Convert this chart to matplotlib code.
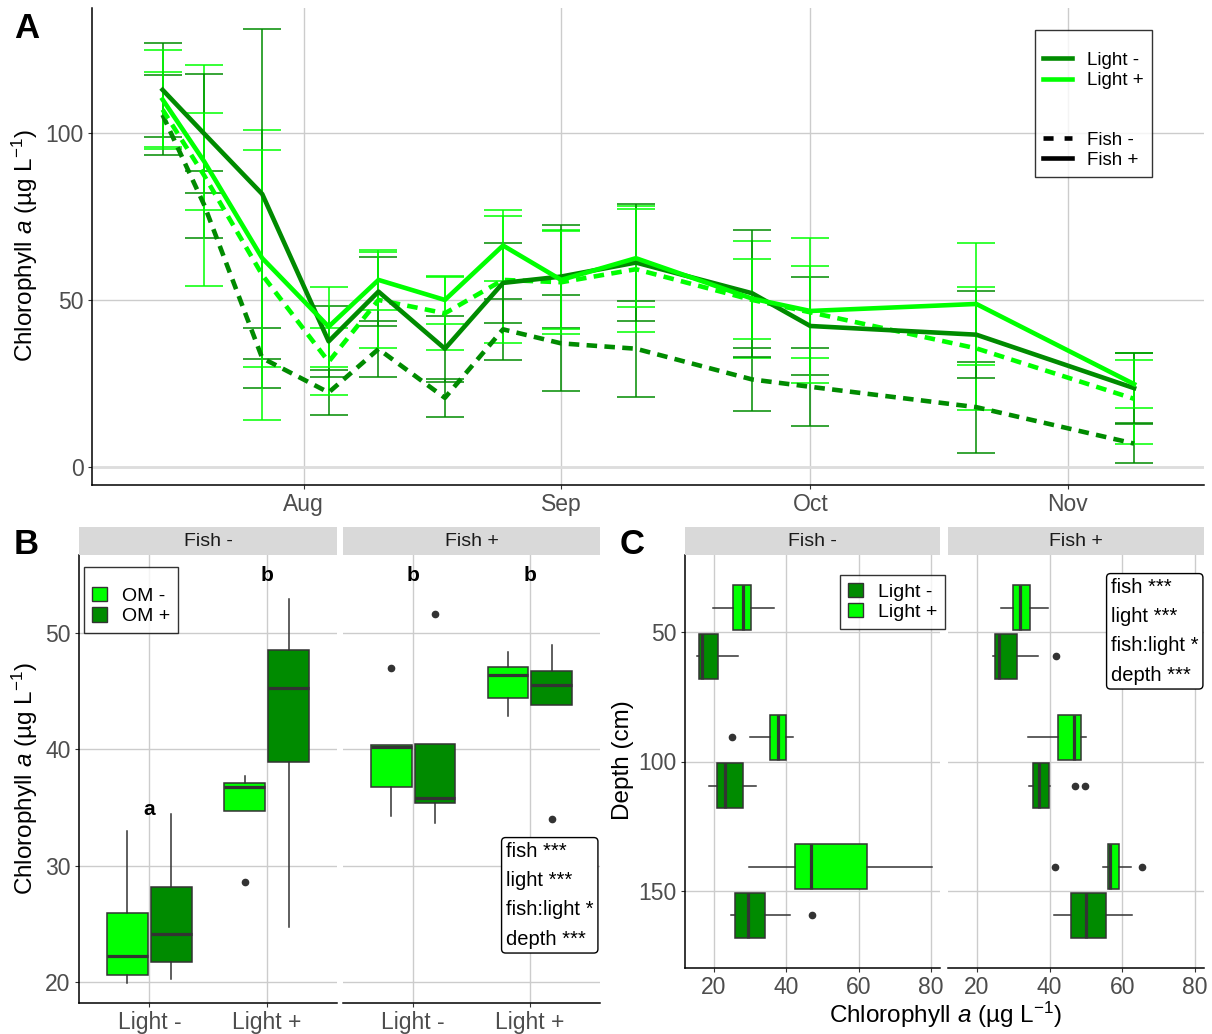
import matplotlib
matplotlib.use("Agg")
import matplotlib.pyplot as plt
import matplotlib.dates as mdates
from matplotlib.lines import Line2D
from matplotlib.patches import Patch
import datetime as dt

plt.rcParams['font.family'] = ['Liberation Sans', 'DejaVu Sans']
plt.rcParams['mathtext.fontset'] = 'custom'
plt.rcParams['mathtext.rm'] = 'Liberation Sans'
plt.rcParams['mathtext.it'] = 'Liberation Sans:italic'

DARK = '#008B00'
LIGHT = '#00FF00'
EDGE = '#333333'
GRID = '#CCCCCC'

# ---- panel A: time series (mean, se) ----
dates = ['2019-07-15', '2019-07-20', '2019-07-27', '2019-08-04', '2019-08-10',
         '2019-08-18', '2019-08-25', '2019-09-01', '2019-09-10', '2019-09-24',
         '2019-10-01', '2019-10-21', '2019-11-09']

# light -, fish +
dk_fp_mean = [112.9, 99.8, 81.7, 37.6, 52.5, 35.4, 55.1, 57.0, 61.2, 52.0, 42.2, 39.6, 23.6]
dk_fp_se = [14.1, 17.8, 49.4, 10.6, 10.3, 9.9, 11.9, 15.5, 17.5, 19.0, 14.8, 13.1, 10.4]
# light +, fish +
lt_fp_mean = [110.0, 91.5, 62.5, 42.0, 56.0, 50.0, 66.3, 56.0, 62.5, 50.4, 46.7, 48.8, 24.8]
lt_fp_se = [14.7, 14.5, 32.5, 12.0, 9.0, 7.2, 10.6, 14.7, 14.7, 12.0, 21.7, 18.3, 7.2]
# light +, fish -
lt_fm_mean = [107.0, 87.3, 57.5, 31.5, 50.0, 46.0, 56.0, 55.3, 59.2, 50.0, 46.3, 35.5, 20.4]
lt_fm_se = [11.2, 33.0, 43.5, 10.0, 14.5, 10.9, 19.0, 15.5, 18.9, 17.5, 13.8, 18.3, 13.6]
# light -, fish -
dk_fm_mean = [105.4, 78.5, 32.6, 22.3, 35.3, 20.7, 41.2, 37.0, 35.4, 26.2, 24.0, 17.9, 7.0]
dk_fm_se = [12.0, 10.0, 8.9, 6.7, 8.5, 5.6, 9.2, 14.4, 14.4, 9.5, 11.7, 13.6, 5.8]

# ---- panel B: boxplots by fish / light / OM ----
b_fish = ['Fish -', 'Fish +']
b_light = ['Light -', 'Light +']
# order: Light- OM-, Light- OM+, Light+ OM-, Light+ OM+
b_lo = [[19.9, 20.3, 34.7, 24.7], [34.3, 33.65, 42.9, 43.85]]
b_q1 = [[20.6, 21.7, 34.7, 38.9], [36.8, 35.4, 44.4, 43.85]]
b_med = [[22.2, 24.1, 36.8, 45.3], [40.2, 35.8, 46.4, 45.55]]
b_q3 = [[25.9, 28.2, 37.1, 48.5], [40.4, 40.5, 47.1, 46.75]]
b_hi = [[33.0, 34.4, 37.7, 52.9], [40.4, 40.5, 48.4, 49.0]]
b_fliers = [[[], [], [28.6], []], [[47.0], [51.6], [], [34.0]]]
b_letters = [['a', 'b'], ['b', 'b']]
b_letter_y = [[34.8, 54.9], [54.9, 54.9]]

# ---- panel C: boxplots by depth ----
c_depths = [50, 100, 150]
# order per depth: Light+, Light-
c_lo = [[[19.7, 15.2], [30.1, 18.5], [29.6, 24.6]],
        [[26.6, 24.4], [34.0, 34.2], [54.6, 41.2]]]
c_q1 = [[[25.3, 15.9], [35.4, 20.75], [42.4, 25.8]],
        [[29.8, 24.9], [42.2, 35.4], [56.2, 46.0]]]
c_med = [[[28.0, 16.8], [37.8, 23.1], [46.7, 29.4]],
         [[31.9, 26.0], [46.8, 37.1], [56.6, 50.1]]]
c_q3 = [[[30.2, 21.0], [39.8, 28.0], [62.4, 34.1]],
        [[34.7, 30.9], [48.7, 39.7], [59.2, 55.5]]]
c_hi = [[[36.7, 26.7], [41.9, 31.7], [80.2, 41.0]],
        [[39.6, 36.8], [50.1, 40.2], [62.3, 62.7]]]
c_fliers = [[[[], []], [[25.1], []], [[], [47.1]]],
            [[[], [41.8]], [[], [47.0, 49.8]], [[41.5, 65.4], []]]]

stats_text = "fish ***\nlight ***\nfish:light *\ndepth ***"
chl_label = r"Chlorophyll $a$ (µg L$^{-1}$)"

W, H = 1212, 1034
fig = plt.figure(figsize=(W / 100, H / 100), dpi=100)


def box(l, t, r, b):
    return [l / W, 1 - b / H, (r - l) / W, (b - t) / H]


def style(ax, left=True):
    ax.spines['top'].set_visible(False)
    ax.spines['right'].set_visible(False)
    ax.spines['left'].set_visible(left)
    for s in ['left', 'bottom']:
        ax.spines[s].set_color('black')
        ax.spines[s].set_linewidth(1.1)
    ax.grid(True, color=GRID, linewidth=1.0)
    ax.set_axisbelow(True)
    ax.tick_params(colors=EDGE, labelcolor='#4D4D4D', labelsize=16.5, length=3, pad=3)
    if not left:
        ax.tick_params(left=False, labelleft=False)
        ax.set_facecolor('none')


def strip(l, t, r, b, label):
    s = fig.add_axes(box(l, t, r, b))
    s.set_facecolor('#D9D9D9')
    s.set_xticks([])
    s.set_yticks([])
    for sp in s.spines.values():
        sp.set_visible(False)
    s.text(0.5, 0.5, label, ha='center', va='center', fontsize=14, color='#1A1A1A')


def make_stats(lo, q1, med, q3, hi, fl):
    return dict(whislo=lo, q1=q1, med=med, q3=q3, whishi=hi, fliers=fl)


def stats_box(ax, x, y):
    ax.text(x, y, stats_text, transform=ax.transAxes, ha='left', va='top',
            fontsize=14.5, linespacing=1.68,
            bbox=dict(boxstyle='round,pad=0.22,rounding_size=0.2', fc='white', ec='black', lw=1))


def key_legend(ax, handles, labels, x, y, title=None):
    leg = ax.legend(handles, labels, loc='upper left', bbox_to_anchor=(x, y), fontsize=14,
                    fancybox=False, edgecolor='black', borderaxespad=0, borderpad=0.4,
                    handlelength=0.8, handleheight=0.75, labelspacing=0.12, handletextpad=0.75,
                    title=title, title_fontsize=7)
    leg.get_frame().set_linewidth(1.0)
    leg.set_zorder(10)


bx_kw = dict(patch_artist=True, showcaps=False,
             boxprops=dict(edgecolor=EDGE, linewidth=1.1),
             medianprops=dict(color=EDGE, linewidth=2.3),
             whiskerprops=dict(color=EDGE, linewidth=1.1),
             flierprops=dict(marker='o', markerfacecolor=EDGE, markeredgecolor=EDGE, markersize=4.5))

# ================= A =================
axA = fig.add_axes(box(92, 8, 1204, 485))
style(axA)
x = [dt.datetime.strptime(d, '%Y-%m-%d') for d in dates]
dash = (0, (2.3, 1.6))
series = [
    (dk_fm_mean, dk_fm_se, DARK, dash),
    (lt_fm_mean, lt_fm_se, LIGHT, dash),
    (dk_fp_mean, dk_fp_se, DARK, '-'),
    (lt_fp_mean, lt_fp_se, LIGHT, '-'),
]
for m, se, c, ls in series:
    axA.errorbar(x, m, yerr=se, fmt='none', ecolor=c, elinewidth=1.1, capsize=14, capthick=1.1, zorder=2)
for m, se, c, ls in series:
    axA.plot(x, m, color=c, linestyle=ls, linewidth=3.3, zorder=3)
axA.axhline(0, color='#DDDDDD', linewidth=2, zorder=1)
axA.set_xlim(mdates.date2num(dt.datetime(2019, 7, 6, 12)), mdates.date2num(dt.datetime(2019, 11, 17, 10)))
axA.set_ylim(-5.4, 137.4)
axA.set_yticks([0, 50, 100])
axA.set_xticks([mdates.date2num(dt.datetime(2019, mth, 1)) for mth in [8, 9, 10, 11]])
axA.set_xticklabels(['Aug', 'Sep', 'Oct', 'Nov'])
handlesA = [Line2D([], [], color=DARK, lw=3.3), Line2D([], [], color=LIGHT, lw=3.3),
            Line2D([], [], color='none'),
            Line2D([], [], color='black', lw=3.3, linestyle=(0, (2.2, 2.4))),
            Line2D([], [], color='black', lw=3.3)]
legA = axA.legend(handlesA, ['Light -', 'Light +', ' ', 'Fish -', 'Fish +'],
                  loc='upper left', bbox_to_anchor=((1035 - 92) / 1112, (485 - 30) / 477),
                  fontsize=13.5, frameon=True, fancybox=False, edgecolor='black',
                  handlelength=1.5, labelspacing=0.17, borderpad=0.45, handletextpad=0.8,
                  borderaxespad=0, title=' ', title_fontsize=7)
legA.get_frame().set_linewidth(1.0)
legA.get_texts()[2].set_fontsize(27)
fig.text(25 / W, 1 - 246 / H, chl_label, rotation=90, ha='center', va='center', fontsize=17.5)
fig.text(14 / W, 1 - 28 / H, 'A', fontsize=25, fontweight='bold', ha='left', va='center')

# ================= B =================
b_boxes = [(79, 337), (343, 600)]
b_offsets = [-0.1875, 0.1875]
for f in range(2):
    l, r = b_boxes[f]
    ax = fig.add_axes(box(l, 555, r, 1003))
    strip(l, 527, r, 555, b_fish[f])
    style(ax, left=(f == 0))
    stats, pos, cols = [], [], []
    for li in range(2):
        for om in range(2):
            k = li * 2 + om
            stats.append(make_stats(b_lo[f][k], b_q1[f][k], b_med[f][k], b_q3[f][k], b_hi[f][k], b_fliers[f][k]))
            pos.append(li + 1 + b_offsets[om])
            cols.append(LIGHT if om == 0 else DARK)
    bp = ax.bxp(stats, positions=pos, widths=0.35, **bx_kw)
    for patch, c in zip(bp['boxes'], cols):
        patch.set_facecolor(c)
    for li in range(2):
        ax.text(li + 1, b_letter_y[f][li], b_letters[f][li], ha='center', va='center',
                fontsize=15, fontweight='bold')
    ax.set_xlim(0.4, 2.6)
    ax.set_ylim(18.2, 56.7)
    ax.set_yticks([20, 30, 40, 50])
    ax.set_xticks([1, 2])
    ax.set_xticklabels(b_light)
    if f == 0:
        key_legend(ax, [Patch(facecolor=LIGHT, edgecolor=EDGE), Patch(facecolor=DARK, edgecolor=EDGE)],
                   ['OM -', 'OM +'], 5 / 258, (1003 - 567) / 448, title=' ')
    else:
        stats_box(ax, (506 - 343) / 257, (1003 - 842) / 448)
fig.text(25 / W, 1 - 779 / H, chl_label, rotation=90, ha='center', va='center', fontsize=17.5)
fig.text(14 / W, 1 - 545 / H, 'B', fontsize=25, fontweight='bold', ha='left', va='center')

# ================= C =================
c_boxes = [(685, 940), (948, 1204)]
c_offsets = [-9.375, 9.375]
for f in range(2):
    l, r = c_boxes[f]
    ax = fig.add_axes(box(l, 555, r, 968))
    strip(l, 527, r, 555, b_fish[f])
    style(ax, left=(f == 0))
    stats, pos, cols = [], [], []
    for di, d in enumerate(c_depths):
        for li in range(2):
            stats.append(make_stats(c_lo[f][di][li], c_q1[f][di][li], c_med[f][di][li],
                                    c_q3[f][di][li], c_hi[f][di][li], c_fliers[f][di][li]))
            pos.append(d + c_offsets[li])
            cols.append(LIGHT if li == 0 else DARK)
    bp = ax.bxp(stats, positions=pos, widths=17.5, orientation='horizontal', **bx_kw)
    for patch, c in zip(bp['boxes'], cols):
        patch.set_facecolor(c)
    ax.set_xlim(12, 82.5)
    ax.set_ylim(179.7, 20.3)
    ax.set_xticks([20, 40, 60, 80])
    ax.set_xticklabels(['20', '40', '60', '80'])
    ax.set_yticks(c_depths)
    ax.set_yticklabels([str(d) for d in c_depths])
    if f == 0:
        key_legend(ax, [Patch(facecolor=DARK, edgecolor=EDGE), Patch(facecolor=LIGHT, edgecolor=EDGE)],
                   ['Light -', 'Light +'], (840 - 685) / 255, (968 - 575) / 413)
    else:
        stats_box(ax, (1111 - 948) / 256, (968 - 578) / 413)
fig.text(623 / W, 1 - 760 / H, 'Depth (cm)', rotation=90, ha='center', va='center', fontsize=17.5)
fig.text(945 / W, 1 - 1015 / H, chl_label, ha='center', va='center', fontsize=17.5)
fig.text(620 / W, 1 - 545 / H, 'C', fontsize=25, fontweight='bold', ha='left', va='center')

fig.savefig('out.png', dpi=100)
